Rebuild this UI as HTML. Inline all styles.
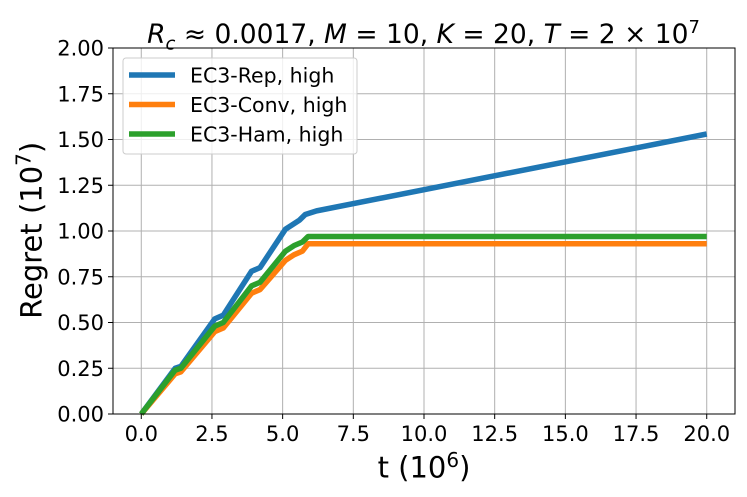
<!DOCTYPE html>
<html><head><meta charset="utf-8"><style>body{margin:0;background:#fff}svg{display:block;font-family:"DejaVu Sans","Liberation Sans",sans-serif}</style></head>
<body>
<svg id="c" width="747" height="497"></svg>
<script>
const xTicks=[0,2.5,5,7.5,10,12.5,15,17.5,20];
const xTickLabels=["0.0","2.5","5.0","7.5","10.0","12.5","15.0","17.5","20.0"];
const yTicks=[0,0.25,0.5,0.75,1,1.25,1.5,1.75,2];
const yTickLabels=["0.00","0.25","0.50","0.75","1.00","1.25","1.50","1.75","2.00"];
const seriesNames=["EC3-Rep, high","EC3-Conv, high","EC3-Ham, high"];
const seriesColors=["#1f77b4","#ff7f0e","#2ca02c"];
const repT=[0,1.2,1.4,2.6,2.9,3.9,4.2,5.1,5.3,5.6,5.8,6.2,20];
const repV=[0,0.25,0.26,0.52,0.54,0.78,0.80,1.01,1.03,1.06,1.09,1.11,1.53];
const convT=[0,1.2,1.4,2.6,2.9,3.9,4.2,5.1,5.4,5.7,5.9,20];
const convV=[0,0.22,0.23,0.45,0.47,0.66,0.68,0.84,0.87,0.89,0.93,0.93];
const hamT=[0,1.2,1.4,2.6,2.9,3.9,4.2,5.1,5.4,5.7,5.9,20];
const hamV=[0,0.24,0.25,0.48,0.50,0.70,0.72,0.89,0.92,0.94,0.97,0.97];
const L=113,R=735,T=48,B=414,xmin=-1,xmax=21,ymin=0,ymax=2;
const sx=v=>L+(v-xmin)/(xmax-xmin)*(R-L);
const sy=v=>B-(v-ymin)/(ymax-ymin)*(B-T);
const svg=document.getElementById('c');const NS='http://www.w3.org/2000/svg';
function mk(t,a,p){const e=document.createElementNS(NS,t);for(const k in a)e.setAttribute(k,a[k]);(p||svg).appendChild(e);return e;}
xTicks.forEach((v,i)=>{
 const g=mk('line',{x1:sx(v),x2:sx(v),y1:T,y2:B,stroke:'#b0b0b0','stroke-width':1});
 
 
 mk('line',{x1:sx(v),x2:sx(v),y1:B,y2:B+5,stroke:'#000'});
 const t=mk('text',{x:sx(v),y:B+27,'text-anchor':'middle','font-size':21});t.textContent=xTickLabels[i];
 
 
});
yTicks.forEach((v,i)=>{
 const g=mk('line',{x1:L,x2:R,y1:sy(v),y2:sy(v),stroke:'#b0b0b0','stroke-width':1});
 
 
 mk('line',{x1:L-5,x2:L,y1:sy(v),y2:sy(v),stroke:'#000'});
 const t=mk('text',{x:L-9,y:sy(v)+7.5,'text-anchor':'end','font-size':21});t.textContent=yTickLabels[i];
 
 
});
const sets=[[repT,repV],[convT,convV],[hamT,hamV]];
sets.forEach((s,k)=>{
 const d=s[0].map((t,i)=>(i?'L':'M')+sx(t)+','+sy(s[1][i])).join(' ');
 const p=mk('path',{d:d,fill:'none',stroke:seriesColors[k],'stroke-width':5.5,'stroke-linejoin':'round'});
 
 
});
const fr=mk('rect',{x:L,y:T,width:R-L,height:B-T,fill:'none',stroke:'#000','stroke-width':1});


const lg=mk('g',{});


mk('rect',{x:123,y:58,width:234,height:96,rx:3,fill:'#fff','fill-opacity':0.8,stroke:'#ccc'},lg);
seriesNames.forEach((n,i)=>{
 const y=75+i*29.5;
 mk('line',{x1:129,x2:175,y1:y,y2:y,stroke:seriesColors[i],'stroke-width':5.5},lg);
 const t=mk('text',{x:190,y:y+7.5,'font-size':20.5},lg);t.textContent=n;
 
 
});
</script>
<div style="position:absolute;left:0;top:0;width:747px;height:497px;pointer-events:none;font-family:'DejaVu Sans','Liberation Sans',sans-serif">
 <div style="position:absolute;left:0;width:847px;top:13px;text-align:center;font-size:26.5px;line-height:30px;white-space:nowrap"><i>R<sub style="font-size:18px">c</sub></i> ≈ 0.0017, <i>M</i> = 10, <i>K</i> = 20, <i>T</i> = 2 × 10<sup style="font-size:18px">7</sup></div>
 <div style="position:absolute;left:324px;width:200px;top:448px;text-align:center;font-size:29px;white-space:nowrap">t (10<sup style="font-size:20px">6</sup>)</div>
 <div style="position:absolute;left:-70px;top:212px;width:200px;text-align:center;font-size:29px;white-space:nowrap;transform:rotate(-90deg)">Regret (10<sup style="font-size:20px">7</sup>)</div>
</div>
</body></html>
